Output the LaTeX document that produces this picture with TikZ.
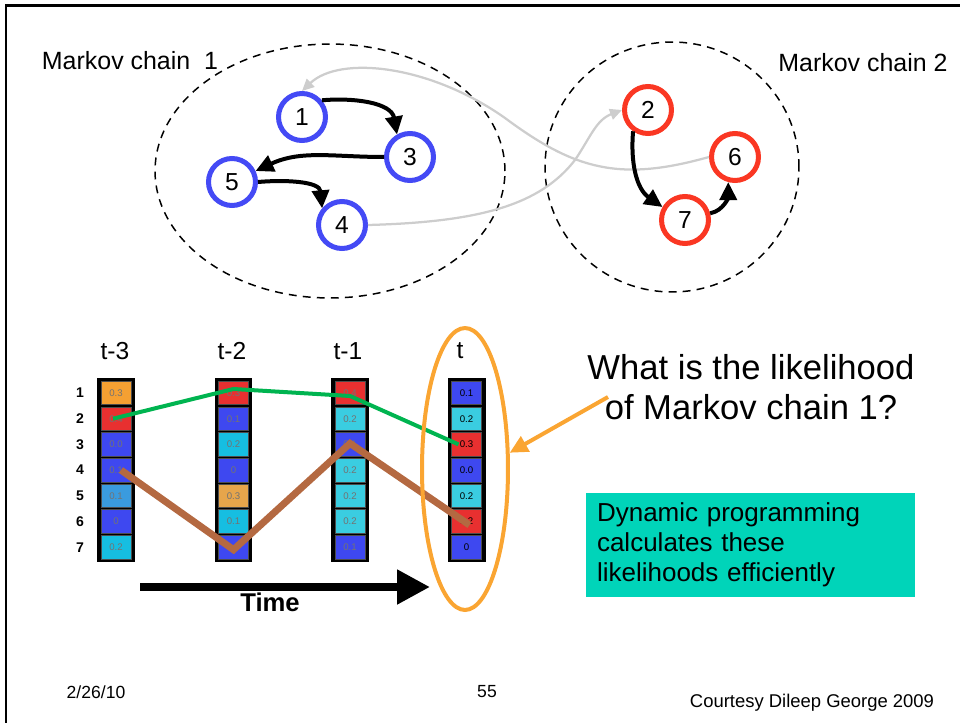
\documentclass[tikz,border=0pt]{standalone}
\usepackage{fontspec}
\setmainfont{Liberation Sans}
\usetikzlibrary{arrows.meta,shapes.geometric}
\definecolor{ringblue}{RGB}{68,74,245}
\definecolor{ringred}{RGB}{250,55,35}
\definecolor{lgray}{RGB}{205,205,205}
\definecolor{cblue}{RGB}{62,72,240}
\definecolor{cred}{RGB}{232,48,48}
\definecolor{ccyan}{RGB}{22,190,225}
\definecolor{clcyan}{RGB}{58,205,225}
\definecolor{cmid}{RGB}{58,155,222}
\definecolor{corng}{RGB}{245,160,50}
\definecolor{corngb}{RGB}{230,165,75}
\definecolor{pathgreen}{RGB}{0,180,80}
\definecolor{pathbrown}{RGB}{180,105,65}
\definecolor{ovalorange}{RGB}{250,165,50}
\definecolor{boxteal}{RGB}{0,212,185}

\begin{document}
\begin{tikzpicture}[x=0.02cm,y=-0.02cm,
          mcloud/.style={draw,line width=0.85pt,dash pattern=on 4.5pt off 3.5pt},
          bstate/.style={circle,draw=ringblue,line width=0.1cm,minimum size=0.94cm,inner sep=0pt,font=\fontsize{14}{14}\selectfont},
          rstate/.style={bstate,draw=ringred},
          trans/.style={line width=0.08cm,-{Triangle[length=0.36cm,width=0.34cm]}},
          crosslink/.style={draw=lgray,line width=0.045cm,-{Triangle[length=0.24cm,width=0.22cm]}},
          colbox/.style={fill=black,minimum width=0.76cm,minimum height=3.68cm,inner sep=0pt},
          probcell/.style={draw=black!70,line width=0.3pt,minimum width=0.6cm,minimum height=0.47cm,inner sep=0pt,font=\fontsize{5.5}{5.5}\selectfont,text=black!55},
          steplabel/.style={font=\fontsize{14}{14}\selectfont}]
          \useasboundingbox (0,0) rectangle (960,723);
          \draw[line width=0.06cm] (6,723) -- (6,6) -- (960,6);

          \draw[mcloud] (330,171) ellipse [x radius=3.5cm, y radius=2.54cm];
          \draw[mcloud] (672,167) ellipse [x radius=2.54cm, y radius=2.5cm];
          \node[font=\fontsize{14.2}{17}\selectfont] (mc1) at (130,61) {Markov chain\ \ 1};
          \node[font=\fontsize{14.2}{17}\selectfont] (mc2) at (863,63) {Markov chain 2};

          \node[bstate] (n1) at (302,117) {1};
          \node[bstate] (n3) at (410,157) {3};
          \node[bstate] (n5) at (232,182) {5};
          \node[bstate] (n4) at (342,225) {4};
          \node[rstate] (n2) at (648,110) {2};
          \node[rstate] (n6) at (735,157) {6};
          \node[rstate] (n7) at (685,220) {7};

          \draw[crosslink] (n4.east) .. controls (480,222) and (540,205) .. (575,160) .. controls (590,138) and (596,120) .. (n2.west);
          \draw[crosslink] (n6.west) .. controls (620,182) and (575,170) .. (505,118) .. controls (430,65) and (340,55) .. (n1.north);

          \draw[trans] (n1.40) to[out=5,in=100] (n3.120);
          \draw[trans] (n3.west) to[out=180,in=25] (n5.25);
          \draw[trans] (n5.east) to[out=5,in=95] (n4.140);
          \draw[trans] (n2.-125) to[out=-95,in=145] (n7.150);
          \draw[trans] (n7.15) to[out=10,in=-90] (n6.-105);

          \node[steplabel] (lab3) at (115,351) {t-3};
          \node[steplabel] (lab2) at (232,351) {t-2};
          \node[steplabel] (lab1) at (348,351) {t-1};
          \node[steplabel] (lab0) at (460,351) {t};

          \foreach \r in {1,...,7}
            \node[font=\bfseries\fontsize{8}{8}\selectfont] (row\r) at (80,{393+(\r-1)*25.7}) {\r};

          \node[colbox] (tm3) at (116,470) {};
          \foreach \c/\v [count=\r] in {corng/0.3,cred/0.4,cblue/0.0,cblue/0.1,cmid/0.1,cblue/0,ccyan/0.2}
            \node[probcell,fill=\c] (tm3-\r) at (116,{393+(\r-1)*25.7}) {\v};
          \node[colbox] (tm2) at (233.5,470) {};
          \foreach \c/\v [count=\r] in {cred/0.3,cblue/0.1,ccyan/0.2,cblue/0,corngb/0.3,ccyan/0.1,cblue/{}}
            \node[probcell,fill=\c] (tm2-\r) at (233.5,{393+(\r-1)*25.7}) {\v};
          \node[colbox] (tm1) at (350,470) {};
          \foreach \c/\v [count=\r] in {cred/0.4,clcyan/0.2,cblue/0.1,clcyan/0.2,clcyan/0.2,clcyan/0.2,cblue/0.1}
            \node[probcell,fill=\c] (tm1-\r) at (350,{393+(\r-1)*25.7}) {\v};
          \node[colbox] (t0) at (466.5,470) {};
          \foreach \c/\v [count=\r] in {cblue/0.1,clcyan/0.2,cred/0.3,cblue/0.0,clcyan/0.2,cred/0.2,cblue/0}
            \node[probcell,fill=\c,text=black] (t0-\r) at (466.5,{393+(\r-1)*25.7}) {\v};

          \draw[pathgreen,line width=0.08cm] ([xshift=-0.06cm]tm3-2.center) -- ([yshift=0.08cm]tm2-1.center) -- ([yshift=-0.06cm]tm1-1.center) -- ([xshift=-0.16cm]t0-3.center);
          \draw[pathbrown,line width=0.14cm] ([xshift=0.1cm]tm3-4.center) -- ([yshift=-0.05cm]tm2-7.center) -- ([yshift=0.02cm]tm1-3.center) -- ([shift={(0.06cm,-0.07cm)}]t0-6.center);

          \coordinate (tstart) at (140,587);
          \coordinate (tend) at (430,587);
          \draw[line width=0.16cm,-{Triangle[length=0.66cm,width=0.66cm]}] (tstart) -- (tend);
          \node[font=\bfseries\fontsize{14.6}{15}\selectfont] (tlab) at (270,602) {Time};

          \node[ellipse,draw=ovalorange,line width=0.08cm,minimum width=1.72cm,minimum height=5.64cm,inner sep=0pt] (oval) at (465,469) {};
          \node[align=center,font=\fontsize{19.7}{22.7}\selectfont] (ask) at (751,387) {What is the likelihood\\of Markov chain 1?};
          \coordinate (askfoot) at (608,397);
          \draw[ovalorange,line width=0.08cm,-{Triangle[length=0.36cm,width=0.34cm]}] (askfoot) -- (oval.20);

          \node[fill=boxteal,text width=6.14cm,inner xsep=0.22cm,align=left,minimum height=2.08cm,font=\fontsize{14.8}{17}\selectfont] (dp) at (750.5,545) {Dynamic programming\\calculates these\\likelihoods efficiently};

          \node[font=\fontsize{10}{10}\selectfont] (date) at (96,692) {2/26/10};
          \node[font=\fontsize{10}{10}\selectfont] (page) at (487,692) {55};
          \node[font=\fontsize{10.5}{11}\selectfont] (credit) at (812,703) {Courtesy Dileep George 2009};
        \end{tikzpicture}
\end{document}
